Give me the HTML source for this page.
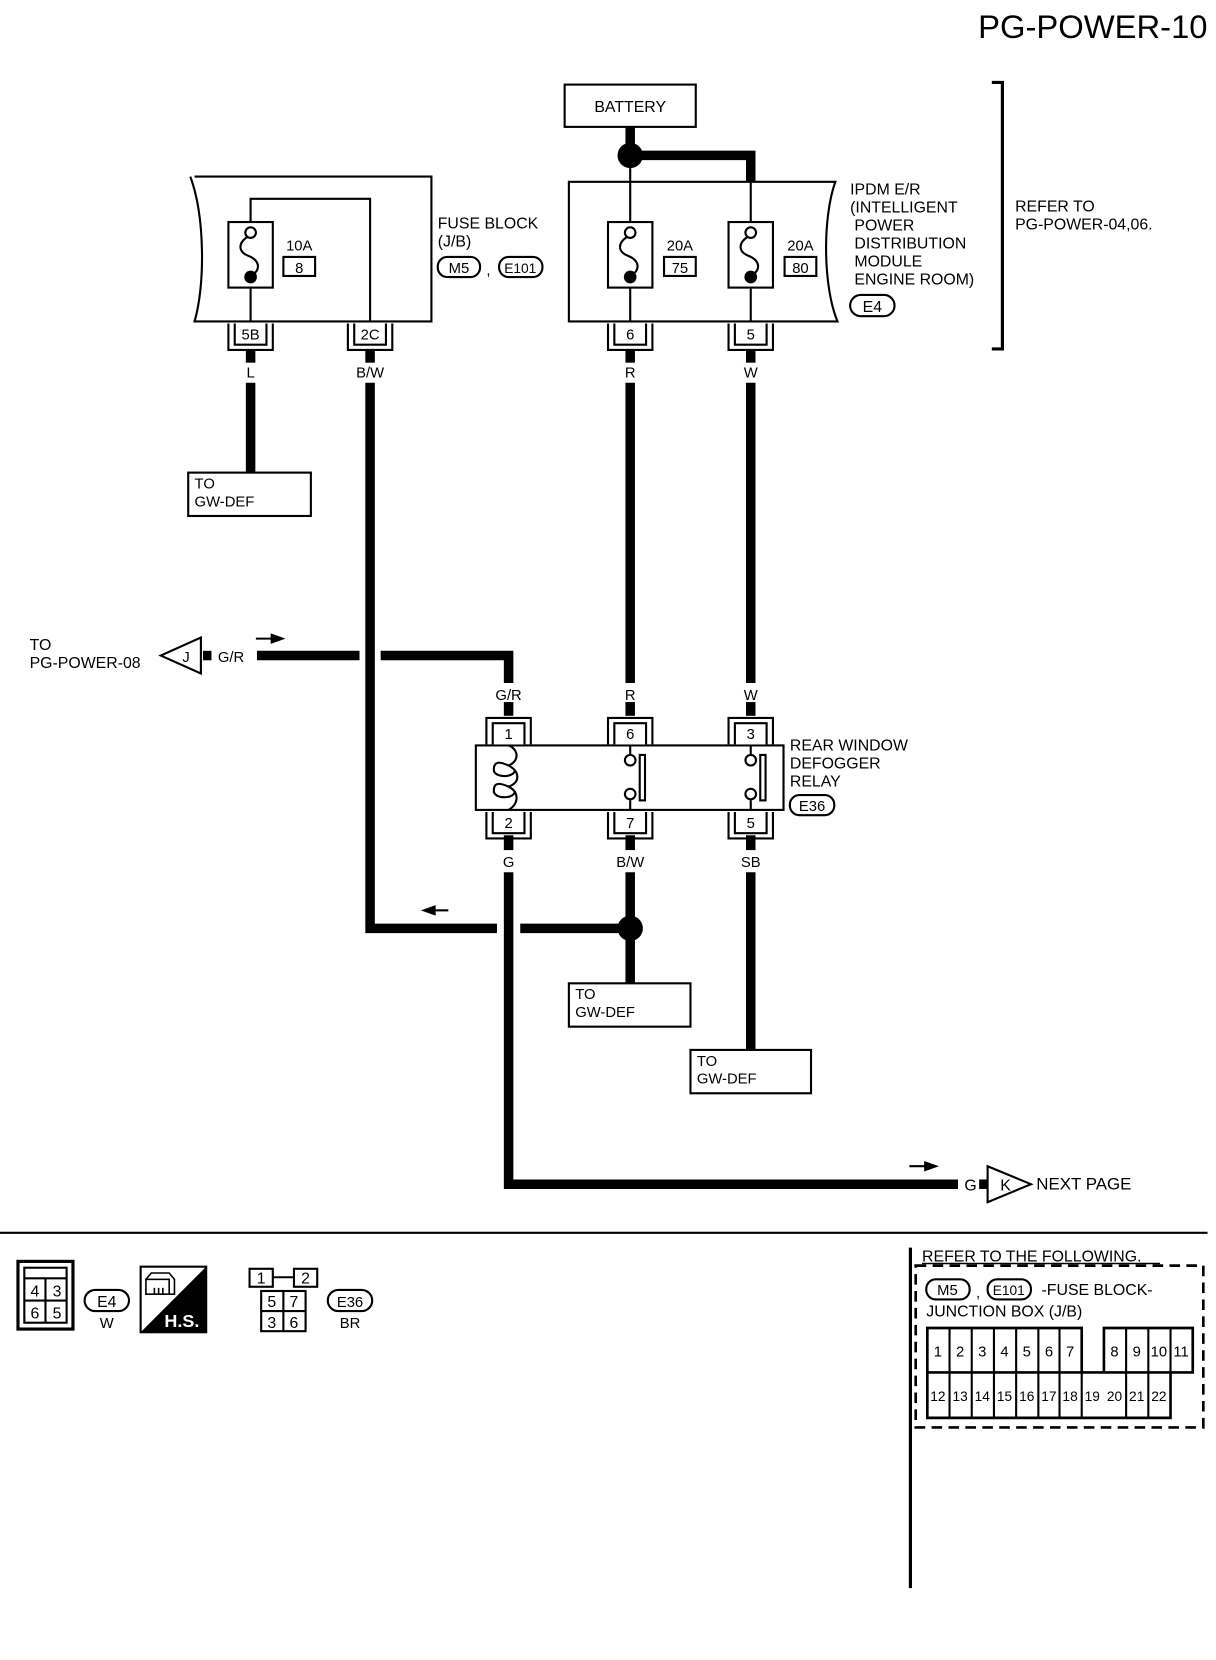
<!DOCTYPE html>
<html><head><meta charset="utf-8"><style>
html,body{margin:0;padding:0;background:#fff}
svg{display:block}
text{font-family:"Liberation Sans",sans-serif;fill:#000}
</style></head><body>
<svg width="1216" height="1660" viewBox="0 0 1150 1570" preserveAspectRatio="none" xmlns="http://www.w3.org/2000/svg">
<defs>
<g id="fuse">
<rect x="-21" y="0" width="42" height="62" fill="#fff" stroke="#000" stroke-width="2"/>
<circle cx="0" cy="10" r="5" fill="#fff" stroke="#000" stroke-width="2"/>
<path d="M-3 14 C-12 20,-12 28,-2 32 C8 36,10 44,2 50" fill="none" stroke="#000" stroke-width="2"/>
<circle cx="0" cy="52" r="6" fill="#000"/>
</g>
<g id="cb">
<path d="M-21 0 V25 H21 V0" fill="none" stroke="#000" stroke-width="2"/>
<path d="M-15 0 V20 H15 V0" fill="#fff" stroke="#000" stroke-width="2"/>
</g>
<g id="ct">
<path d="M-21 25 V0 H21 V25" fill="none" stroke="#000" stroke-width="2"/>
<path d="M-15 25 V5 H15 V25" fill="#fff" stroke="#000" stroke-width="2"/>
</g>
</defs>

<text x="1142" y="36" font-size="31" text-anchor="end">PG-POWER-10</text>

<!-- battery -->
<rect x="534" y="80" width="124" height="40" fill="#fff" stroke="#000" stroke-width="2"/>
<text x="596" y="106" font-size="15" text-anchor="middle">BATTERY</text>
<g stroke="#000" stroke-width="9" fill="none">
<line x1="596" y1="120" x2="596" y2="147"/>
<path d="M596 147 H710 V172"/>
</g>
<circle cx="596" cy="147" r="12" fill="#000"/>

<!-- IPDM -->
<path d="M538 172 H790 C778 205,778 270,792 304 H538 Z" fill="#fff" stroke="#000" stroke-width="2"/>
<g stroke="#000" stroke-width="2">
<line x1="596" y1="159" x2="596" y2="304"/>
<line x1="710" y1="172" x2="710" y2="304"/>
</g>
<use href="#fuse" x="596" y="210"/>
<use href="#fuse" x="710" y="210"/>
<text x="643" y="237" font-size="14" text-anchor="middle">20A</text>
<rect x="628" y="243" width="30" height="18" fill="#fff" stroke="#000" stroke-width="2"/>
<text x="643" y="258" font-size="14" text-anchor="middle">75</text>
<text x="757" y="237" font-size="14" text-anchor="middle">20A</text>
<rect x="742" y="243" width="30" height="18" fill="#fff" stroke="#000" stroke-width="2"/>
<text x="757" y="258" font-size="14" text-anchor="middle">80</text>
<g font-size="15">
<text x="804" y="184">IPDM E/R</text>
<text x="804" y="201">(INTELLIGENT</text>
<text x="808" y="218">POWER</text>
<text x="808" y="235">DISTRIBUTION</text>
<text x="808" y="252">MODULE</text>
<text x="808" y="269">ENGINE ROOM)</text>
</g>
<rect x="804" y="279" width="42" height="20" rx="10" fill="#fff" stroke="#000" stroke-width="2"/>
<text x="825" y="295" font-size="15" text-anchor="middle">E4</text>
<path d="M938 78 H948 V330 H938" fill="none" stroke="#000" stroke-width="3"/>
<text x="960" y="200" font-size="15">REFER TO</text>
<text x="960" y="217" font-size="15">PG-POWER-04,06.</text>

<!-- fuse block -->
<path d="M184 167 H408 V304 H184 C194 270,194 205,180 167" fill="#fff" stroke="#000" stroke-width="2"/>
<path d="M237 304 V188 H350 V304" fill="none" stroke="#000" stroke-width="2"/>
<use href="#fuse" x="237" y="210"/>
<text x="283" y="237" font-size="14" text-anchor="middle">10A</text>
<rect x="268" y="243" width="30" height="18" fill="#fff" stroke="#000" stroke-width="2"/>
<text x="283" y="258" font-size="14" text-anchor="middle">8</text>
<text x="414" y="216" font-size="15">FUSE BLOCK</text>
<text x="414" y="233" font-size="15">(J/B)</text>
<rect x="414" y="243" width="40" height="19" rx="9" fill="#fff" stroke="#000" stroke-width="2"/>
<text x="434" y="258" font-size="14" text-anchor="middle">M5</text>
<text x="460" y="260" font-size="14">,</text>
<rect x="472" y="243" width="41" height="19" rx="9" fill="#fff" stroke="#000" stroke-width="2"/>
<text x="492" y="258" font-size="13" text-anchor="middle">E101</text>

<!-- top connectors -->
<g font-size="14" text-anchor="middle">
<use href="#cb" x="237" y="306"/><text x="237" y="321">5B</text>
<use href="#cb" x="350" y="306"/><text x="350" y="321">2C</text>
<use href="#cb" x="596" y="306"/><text x="596" y="321">6</text>
<use href="#cb" x="710" y="306"/><text x="710" y="321">5</text>
<text x="237" y="357">L</text><text x="350" y="357">B/W</text>
<text x="596" y="357">R</text><text x="710" y="357">W</text>
</g>

<!-- wires -->
<g stroke="#000" stroke-width="9" fill="none">
<line x1="237" y1="331" x2="237" y2="343"/>
<line x1="350" y1="331" x2="350" y2="343"/>
<line x1="596" y1="331" x2="596" y2="343"/>
<line x1="710" y1="331" x2="710" y2="343"/>
<line x1="237" y1="362" x2="237" y2="447"/>
<path d="M350 362 V878 H470"/>
<line x1="492" y1="878" x2="596" y2="878"/>
<line x1="596" y1="362" x2="596" y2="646"/>
<line x1="710" y1="362" x2="710" y2="646"/>
<line x1="243" y1="620" x2="340" y2="620"/>
<path d="M360 620 H481 V646"/>
<line x1="192" y1="620" x2="200" y2="620"/>
<line x1="481" y1="664" x2="481" y2="677"/>
<line x1="596" y1="664" x2="596" y2="677"/>
<line x1="710" y1="664" x2="710" y2="677"/>
<line x1="481" y1="790" x2="481" y2="804"/>
<line x1="596" y1="790" x2="596" y2="804"/>
<line x1="710" y1="790" x2="710" y2="804"/>
<path d="M481 825 V1120 H906"/>
<line x1="596" y1="825" x2="596" y2="930"/>
<line x1="710" y1="825" x2="710" y2="993"/>
<line x1="926" y1="1120" x2="934" y2="1120"/>
</g>
<circle cx="596" cy="878" r="12" fill="#000"/>

<!-- arrows -->
<line x1="242" y1="604" x2="258" y2="604" stroke="#000" stroke-width="2"/>
<polygon points="256,599 270,604 256,609" fill="#000"/>
<line x1="412" y1="861" x2="424" y2="861" stroke="#000" stroke-width="2"/>
<polygon points="412,856 398,861 412,866" fill="#000"/>
<line x1="860" y1="1103" x2="876" y2="1103" stroke="#000" stroke-width="2"/>
<polygon points="874,1098 888,1103 874,1108" fill="#000"/>

<!-- TO boxes -->
<g font-size="14">
<rect x="178" y="447" width="116" height="41" fill="#fff" stroke="#000" stroke-width="2"/>
<text x="184" y="462">TO</text><text x="184" y="479">GW-DEF</text>
<rect x="538" y="930" width="115" height="41" fill="#fff" stroke="#000" stroke-width="2"/>
<text x="544" y="945">TO</text><text x="544" y="962">GW-DEF</text>
<rect x="653" y="993" width="114" height="41" fill="#fff" stroke="#000" stroke-width="2"/>
<text x="659" y="1008">TO</text><text x="659" y="1025">GW-DEF</text>
</g>

<!-- J flag -->
<polygon points="152,620 190,603 190,637" fill="#fff" stroke="#000" stroke-width="2"/>
<text x="176" y="626" font-size="14" text-anchor="middle">J</text>
<text x="206" y="626" font-size="14">G/R</text>
<text x="28" y="615" font-size="15">TO</text>
<text x="28" y="632" font-size="15">PG-POWER-08</text>

<!-- K flag -->
<polygon points="934,1103 934,1137 975,1120" fill="#fff" stroke="#000" stroke-width="2"/>
<text x="951" y="1126" font-size="15" text-anchor="middle">K</text>
<text x="912" y="1126" font-size="15">G</text>
<text x="980" y="1125" font-size="16">NEXT PAGE</text>

<!-- relay -->
<g font-size="14" text-anchor="middle">
<text x="481" y="662">G/R</text><text x="596" y="662">R</text><text x="710" y="662">W</text>
<text x="481" y="820">G</text><text x="596" y="820">B/W</text><text x="710" y="820">SB</text>
</g>
<rect x="450" y="705" width="291" height="61" fill="#fff" stroke="#000" stroke-width="2"/>
<g font-size="14" text-anchor="middle">
<use href="#ct" x="481" y="679"/><text x="481" y="699">1</text>
<use href="#ct" x="596" y="679"/><text x="596" y="699">6</text>
<use href="#ct" x="710" y="679"/><text x="710" y="699">3</text>
<use href="#cb" x="481" y="768"/><text x="481" y="783">2</text>
<use href="#cb" x="596" y="768"/><text x="596" y="783">7</text>
<use href="#cb" x="710" y="768"/><text x="710" y="783">5</text>
</g>
<g stroke="#000" stroke-width="2" fill="none">
<path d="M508 705 V0" stroke="none"/>
<path d="M509 705 C519 709,519 720,509 724 C500 720,495 720,495 728 C495 736,515 736,515 728 M509 724 C520 730,520 740,509 744 C500 740,495 740,495 748 C495 756,515 756,515 748 M509 744 C519 749,519 760,509 766" transform="translate(-28 0)"/>
<line x1="596" y1="705" x2="596" y2="714"/><circle cx="596" cy="719" r="5"/>
<line x1="596" y1="757" x2="596" y2="766"/><circle cx="596" cy="751" r="5"/>
<rect x="605" y="714" width="5" height="43"/>
<line x1="710" y1="705" x2="710" y2="714"/><circle cx="710" cy="719" r="5"/>
<line x1="710" y1="757" x2="710" y2="766"/><circle cx="710" cy="751" r="5"/>
<rect x="719" y="714" width="5" height="43"/>
</g>
<g font-size="15">
<text x="747" y="710">REAR WINDOW</text>
<text x="747" y="727">DEFOGGER</text>
<text x="747" y="744">RELAY</text>
</g>
<rect x="747" y="752" width="42" height="19" rx="9" fill="#fff" stroke="#000" stroke-width="2"/>
<text x="768" y="767" font-size="14" text-anchor="middle">E36</text>

<!-- separator -->
<line x1="0" y1="1166" x2="1142" y2="1166" stroke="#000" stroke-width="2"/>
<line x1="861" y1="1180" x2="861" y2="1502" stroke="#000" stroke-width="3"/>

<!-- bottom left connectors -->
<rect x="17" y="1193" width="52" height="64" fill="#fff" stroke="#000" stroke-width="3"/>
<rect x="23" y="1199" width="40" height="52" fill="none" stroke="#000" stroke-width="2"/>
<line x1="23" y1="1209" x2="63" y2="1209" stroke="#000" stroke-width="2"/>
<line x1="23" y1="1230" x2="63" y2="1230" stroke="#000" stroke-width="2"/>
<line x1="43" y1="1209" x2="43" y2="1251" stroke="#000" stroke-width="2"/>
<g font-size="15" text-anchor="middle">
<text x="33" y="1226">4</text><text x="54" y="1226">3</text>
<text x="33" y="1247">6</text><text x="54" y="1247">5</text>
</g>
<rect x="80" y="1220" width="42" height="20" rx="10" fill="#fff" stroke="#000" stroke-width="2"/>
<text x="101" y="1236" font-size="15" text-anchor="middle">E4</text>
<text x="101" y="1256" font-size="14" text-anchor="middle">W</text>
<rect x="133" y="1198" width="62" height="62" fill="#fff" stroke="#000" stroke-width="2"/>
<polygon points="195,1198 195,1260 133,1260" fill="#000"/>
<g stroke="#000" stroke-width="1.5" fill="none">
<rect x="138" y="1210" width="22" height="14"/>
<path d="M138 1210 L143 1204 H160 L165 1210 V1224 H160"/>
<path d="M146 1218 v6 M150 1218 v6 M154 1218 v6"/>
</g>
<text x="172" y="1255" font-size="17" font-weight="bold" text-anchor="middle" style="fill:#fff">H.S.</text>

<g stroke="#000" stroke-width="2" fill="#fff">
<rect x="236" y="1200" width="22" height="17"/>
<rect x="278" y="1200" width="22" height="17"/>
<line x1="258" y1="1208" x2="278" y2="1208"/>
<rect x="247" y="1221" width="42" height="38"/>
<line x1="268" y1="1221" x2="268" y2="1259"/>
<line x1="247" y1="1240" x2="289" y2="1240"/>
</g>
<g font-size="15" text-anchor="middle">
<text x="247" y="1214">1</text><text x="289" y="1214">2</text>
<text x="257" y="1236">5</text><text x="278" y="1236">7</text>
<text x="257" y="1256">3</text><text x="278" y="1256">6</text>
</g>
<rect x="310" y="1220" width="42" height="20" rx="10" fill="#fff" stroke="#000" stroke-width="2"/>
<text x="331" y="1236" font-size="14" text-anchor="middle">E36</text>
<text x="331" y="1256" font-size="14" text-anchor="middle">BR</text>

<!-- refer box -->
<text x="872" y="1193" font-size="15">REFER TO THE FOLLOWING.</text>
<line x1="872" y1="1195" x2="1097" y2="1195" stroke="#000" stroke-width="1.5"/>
<rect x="866" y="1197" width="272" height="153" fill="none" stroke="#000" stroke-width="2.5" stroke-dasharray="10,6"/>
<rect x="876" y="1210" width="41" height="19" rx="9" fill="#fff" stroke="#000" stroke-width="2"/>
<text x="896" y="1225" font-size="14" text-anchor="middle">M5</text>
<text x="923" y="1227" font-size="14">,</text>
<rect x="934" y="1210" width="41" height="19" rx="9" fill="#fff" stroke="#000" stroke-width="2"/>
<text x="954" y="1225" font-size="13" text-anchor="middle">E101</text>
<text x="985" y="1225" font-size="15">-FUSE BLOCK-</text>
<text x="876" y="1245" font-size="15">JUNCTION BOX (J/B)</text>
<g stroke="#000" stroke-width="2.5" fill="none">
<path d="M877 1298 V1256 H1023 V1298"/>
<path d="M1044 1298 V1256 H1128 V1298 H1107"/>
<path d="M877 1298 H1107 V1341 H877 Z"/>
</g>
<g stroke="#000" stroke-width="2">
<line x1="898" y1="1256" x2="898" y2="1341"/>
<line x1="919" y1="1256" x2="919" y2="1341"/>
<line x1="940" y1="1256" x2="940" y2="1341"/>
<line x1="961" y1="1256" x2="961" y2="1341"/>
<line x1="982" y1="1256" x2="982" y2="1341"/>
<line x1="1002" y1="1256" x2="1002" y2="1341"/>
<line x1="1023" y1="1298" x2="1023" y2="1341"/>
<line x1="1065" y1="1256" x2="1065" y2="1341"/>
<line x1="1086" y1="1256" x2="1086" y2="1341"/>
<line x1="1107" y1="1256" x2="1107" y2="1298"/>
</g>
<g font-size="14" text-anchor="middle">
<text x="887" y="1283">1</text><text x="908" y="1283">2</text><text x="929" y="1283">3</text><text x="950" y="1283">4</text><text x="971" y="1283">5</text><text x="992" y="1283">6</text><text x="1012" y="1283">7</text>
<text x="1054" y="1283">8</text><text x="1075" y="1283">9</text><text x="1096" y="1283">10</text><text x="1117" y="1283">11</text>
</g>
<g font-size="13" text-anchor="middle">
<text x="887" y="1325">12</text><text x="908" y="1325">13</text><text x="929" y="1325">14</text><text x="950" y="1325">15</text><text x="971" y="1325">16</text><text x="992" y="1325">17</text><text x="1012" y="1325">18</text><text x="1033" y="1325">19</text><text x="1054" y="1325">20</text><text x="1075" y="1325">21</text><text x="1096" y="1325">22</text>
</g>
</svg>
</body></html>
